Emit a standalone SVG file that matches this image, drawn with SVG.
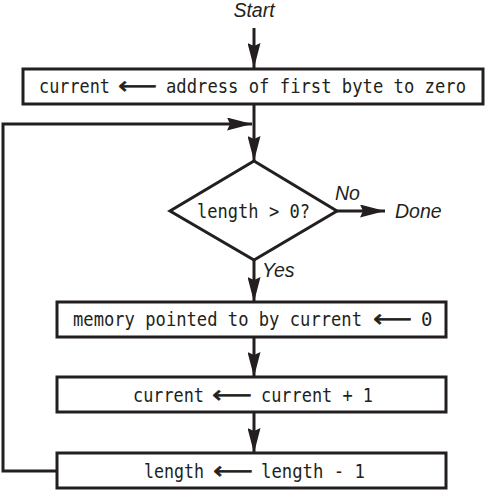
<svg xmlns="http://www.w3.org/2000/svg" width="485" height="490" viewBox="0 0 485 490">
<defs>
<marker id="ah" markerWidth="25" markerHeight="13" viewBox="0 0 25 13" refX="25" refY="6.5" markerUnits="userSpaceOnUse" orient="auto">
<path d="M0,0 L25,6.5 L0,13 L3,6.5 Z" fill="#231f20"/>
</marker>
<style>
.box{fill:#fff;stroke:#231f20;stroke-width:3}
.ln{fill:none;stroke:#231f20;stroke-width:3}
.mono{font-family:"DejaVu Sans Mono","Liberation Mono",monospace;font-size:19px;fill:#231f20}
.arr{font-family:"DejaVu Sans",sans-serif;font-size:24px;fill:#231f20;stroke:#231f20;stroke-width:0.5}
.lbl{font-family:"Liberation Sans","DejaVu Sans",sans-serif;font-style:italic;font-size:19.5px;fill:#231f20}
</style>
</defs>
<g id="connectors">
<line class="ln" x1="254" y1="28" x2="254" y2="68" marker-end="url(#ah)"/>
<line class="ln" x1="254" y1="105" x2="254" y2="161" marker-end="url(#ah)"/>
<polyline class="ln" points="57,471 3,471 3,124 252,124" marker-end="url(#ah)"/>
<line class="ln" x1="337" y1="211" x2="385" y2="211" marker-end="url(#ah)"/>
<line class="ln" x1="254" y1="260" x2="254" y2="302" marker-end="url(#ah)"/>
<line class="ln" x1="254" y1="337" x2="254" y2="377" marker-end="url(#ah)"/>
<line class="ln" x1="254" y1="413" x2="254" y2="453" marker-end="url(#ah)"/>
</g>
<g id="start"><text class="lbl" x="254" y="17" text-anchor="middle">Start</text></g>
<g id="init">
<rect class="box" x="23" y="69" width="460" height="35"/>
<text class="mono" x="39" y="93" textLength="71" lengthAdjust="spacingAndGlyphs">current</text>
<text class="arr" x="118" y="94" textLength="39" lengthAdjust="spacingAndGlyphs">⟵</text>
<text class="mono" x="166" y="93" textLength="300" lengthAdjust="spacingAndGlyphs">address of first byte to zero</text>
</g>
<g id="decision">
<polygon points="254,161 337,211 254,260 170,211" fill="#fff" stroke="#231f20" stroke-width="3"/>
<text class="mono" x="197" y="218" textLength="113" lengthAdjust="spacingAndGlyphs">length &gt; 0?</text>
</g>
<g id="no-label"><text class="lbl" x="335" y="200">No</text></g>
<g id="done"><text class="lbl" x="395" y="218">Done</text></g>
<g id="yes-label"><text class="lbl" x="262" y="277">Yes</text></g>
<g id="clear">
<rect class="box" x="57" y="302" width="389" height="35"/>
<text class="mono" x="73" y="326" textLength="289" lengthAdjust="spacingAndGlyphs">memory pointed to by current</text>
<text class="arr" x="373" y="327" textLength="39" lengthAdjust="spacingAndGlyphs">⟵</text>
<text class="mono" x="421" y="326">0</text>
</g>
<g id="inc">
<rect class="box" x="57" y="377" width="389" height="35"/>
<text class="mono" x="133" y="402" textLength="71" lengthAdjust="spacingAndGlyphs">current</text>
<text class="arr" x="212" y="403" textLength="40" lengthAdjust="spacingAndGlyphs">⟵</text>
<text class="mono" x="261" y="402" textLength="112" lengthAdjust="spacingAndGlyphs">current + 1</text>
</g>
<g id="dec">
<rect class="box" x="57" y="453" width="389" height="35"/>
<text class="mono" x="144" y="478" textLength="60" lengthAdjust="spacingAndGlyphs">length</text>
<text class="arr" x="213" y="479" textLength="40" lengthAdjust="spacingAndGlyphs">⟵</text>
<text class="mono" x="261" y="478" textLength="104" lengthAdjust="spacingAndGlyphs">length - 1</text>
</g>
</svg>
